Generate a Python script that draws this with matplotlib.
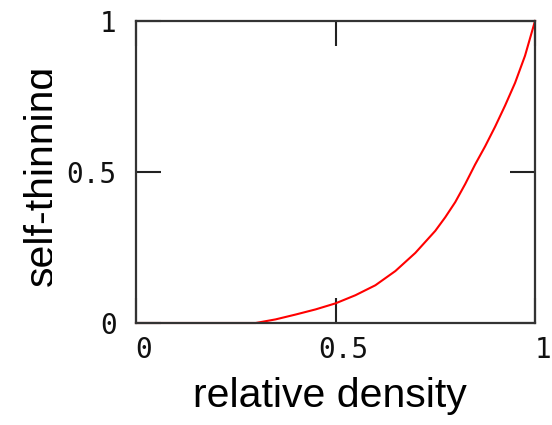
import matplotlib
matplotlib.use("Agg")
import matplotlib.pyplot as plt
from matplotlib.transforms import Bbox, TransformedBbox, ScaledTranslation

# curva
densidad = [0.0, 0.30, 0.35, 0.40, 0.45, 0.50, 0.55, 0.60, 0.65, 0.70,
            0.75, 0.775, 0.80, 0.825, 0.85, 0.875, 0.90, 0.925, 0.95, 0.975, 1.0]
autoaclareo = [0.0, 0.0, 0.012, 0.028, 0.045, 0.065, 0.092, 0.125, 0.172, 0.232,
               0.305, 0.35, 0.40, 0.46, 0.525, 0.585, 0.65, 0.72, 0.795, 0.885, 1.0]
ticks = [0, 0.5, 1]
tick_labels = ["0", "0.5", "1"]

fig = plt.figure(figsize=(5.52, 4.25), dpi=100)
ax = fig.add_axes([136 / 552, 102 / 425, 399 / 552, 302 / 425])

ax.plot(densidad, autoaclareo, color="red", lw=1.5, clip_on=False)
ax.set_xlim(0, 1)
ax.set_ylim(0, 1)

for s in ax.spines.values():
    s.set_linewidth(1.6)
    s.set_color("#333333")

ax.set_xticks(ticks)
ax.set_yticks(ticks)
ax.set_xticklabels(tick_labels)
ax.set_yticklabels(tick_labels)
ax.tick_params(direction="in", length=18, width=1.5, color="#222222",
               top=True, right=True, labelsize=20, pad=9)
ax.tick_params(axis="y", pad=14)
for lab in ax.get_xticklabels() + ax.get_yticklabels():
    lab.set_family("DejaVu Sans Mono")
    lab.set_color("#111111")
# desplazar etiquetas del eje x un poco a la derecha
off = ScaledTranslation(8 / 100, 0, fig.dpi_scale_trans)
for lab in ax.get_xticklabels():
    lab.set_transform(lab.get_transform() + off)

fig.text(330 / 552, 1 - 407 / 425, "relative density", ha="center",
         va="baseline", fontsize=29.5, family="Liberation Sans")

ylab = fig.text(61 / 552, 1 - 175 / 425, "self-thinning", rotation=90,
                ha="right", va="center", fontsize=29.5, family="Liberation Sans")
ylab.set_clip_on(True)
ylab.set_clip_box(TransformedBbox(Bbox([[0, 0], [52 / 552, 1]]), fig.transFigure))

fig.savefig("out.png", dpi=100)
